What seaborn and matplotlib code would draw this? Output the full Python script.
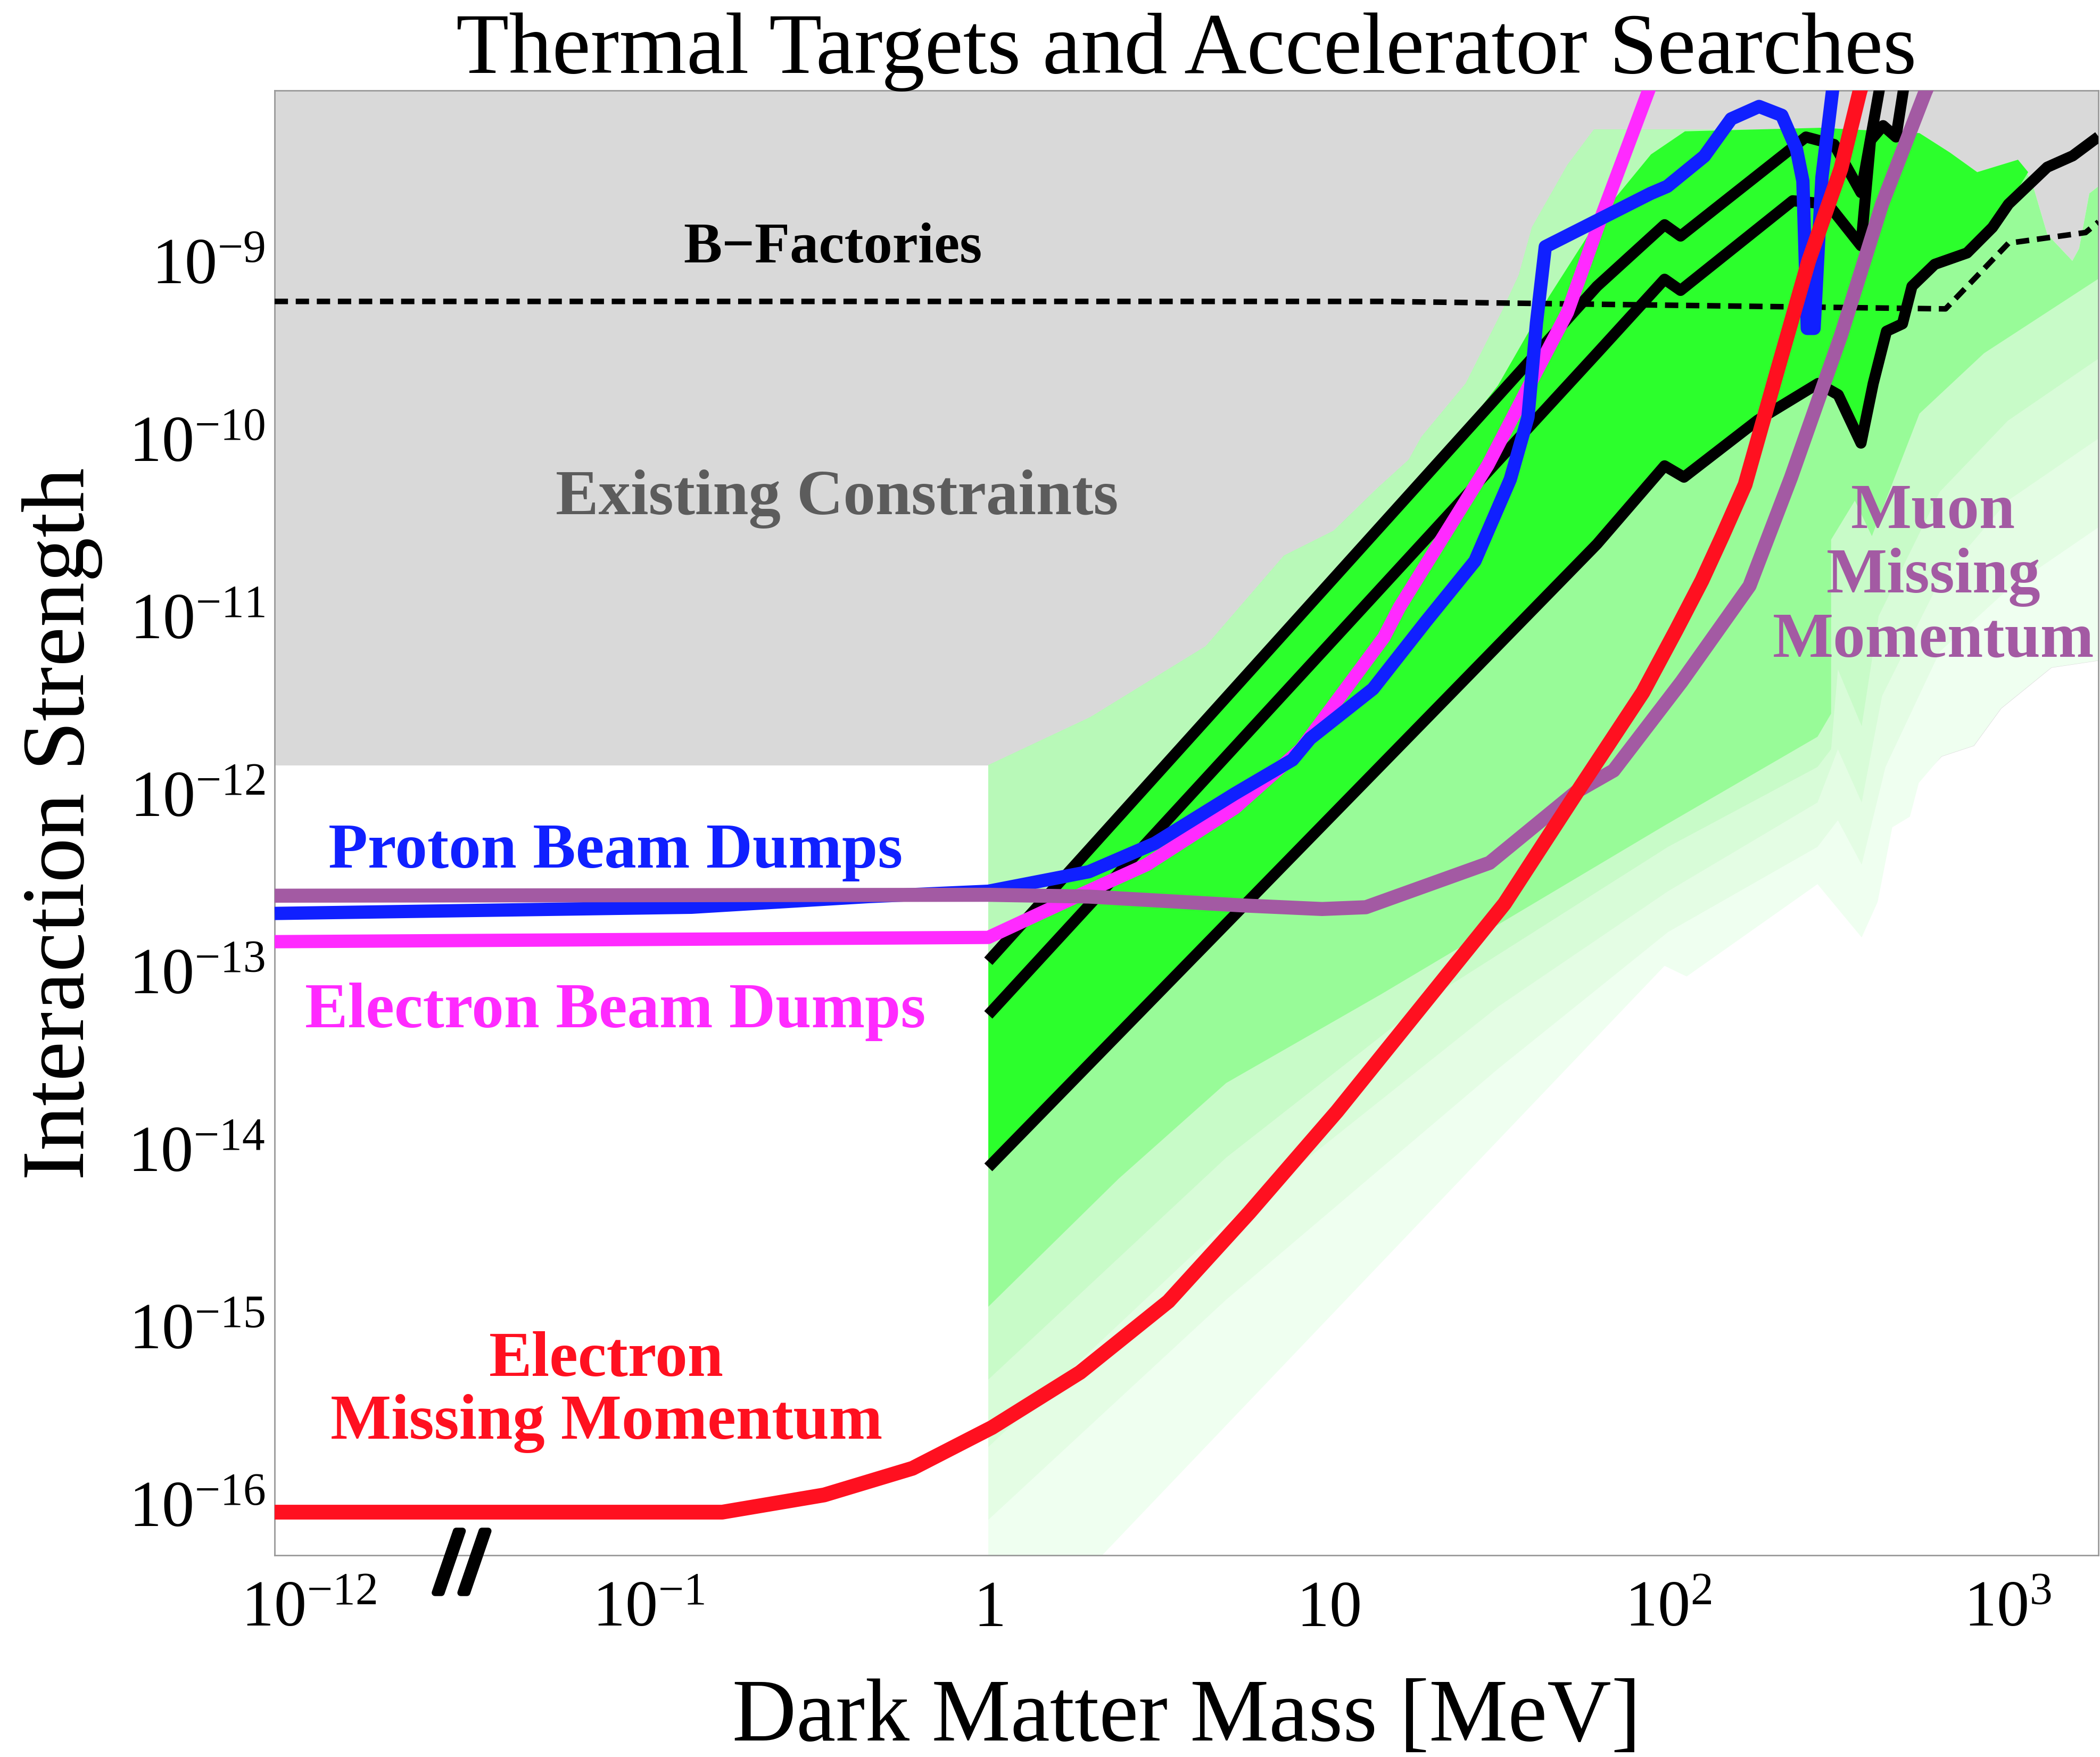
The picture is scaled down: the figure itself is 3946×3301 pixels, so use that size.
import numpy as np
import matplotlib
matplotlib.use("Agg")
import matplotlib.pyplot as plt
import matplotlib.patheffects as pe
from matplotlib.ticker import NullLocator
import seaborn as sns

# every value below is a log10.
# the mass axis is broken: the "10^-12" tick is drawn where 10^-2 would be.
XMIN, XMAX = -2.1, 3.267
YMIN, YMAX = -16.29, -8.04

x_ticks = [-2, -1, 0, 1, 2, 3]
x_labels = [r"$10^{-12}$", r"$10^{-1}$", r"$1$", r"$10$", r"$10^{2}$", r"$10^{3}$"]
y_ticks = [-16, -15, -14, -13, -12, -11, -10, -9]
y_labels = [r"$10^{%d}$" % t for t in y_ticks]

# existing constraints (grey), lower edge
existing_lx = [-2.1, 2.78, 2.805, 2.90, 2.98, 3.128, 3.267]
existing_ly = [-11.84, -11.84, -11.79, -11.73, -11.52, -11.29, -11.25]

# upper envelope of the green thermal regions
green_top_lx = [0.0, 0.30, 0.64, 0.87, 1.016, 1.145, 1.237, 1.275, 1.405, 1.51, 1.561, 1.60,
                1.704, 1.782, 2.375, 2.45, 2.74, 2.83, 2.91, 3.03]
green_top_ly = [-11.84, -11.57, -11.17, -10.66, -10.52, -10.28, -10.12, -9.99, -9.69, -9.29, -9.08, -8.81,
                -8.46, -8.26, -8.26, -8.25, -8.28, -8.39, -8.50, -8.43]
notch_lx = [3.07, 3.116, 3.19, 3.21, 3.24, 3.267]
notch_ly = [-8.55, -8.85, -9.00, -8.93, -8.62, -8.58]

# bright green band, upper edge (lower edge is the lowest thermal line)
bright_top_lx = [0.0, 1.3, 1.5, 1.65, 1.8, 1.95, 2.05, 2.45, 2.74, 2.83, 2.91, 3.03, 3.06]
bright_top_ly = [-12.94, -10.19, -9.70, -9.20, -8.75, -8.40, -8.27, -8.25, -8.28, -8.39, -8.50, -8.43, -8.50]

# lower edges of the paler green bands
medium_lx = [0.0, 0.383, 0.70, 1.156, 1.99, 2.44, 2.48, 2.48, 2.55, 2.60, 2.74, 2.93, 3.267]
medium_ly = [-14.89, -14.17, -13.63, -13.13, -12.18, -11.68, -11.55, -10.57, -10.35, -10.55, -9.86, -9.52, -9.10]
pale1_lx = [0.0, 0.7, 1.3, 2.0, 2.44, 2.48, 2.50, 2.57, 2.62, 2.8, 3.0, 3.267]
pale1_ly = [-15.30, -14.05, -13.15, -12.30, -11.85, -11.75, -11.30, -11.62, -11.00, -10.30, -9.90, -9.55]
pale2_lx = [0.0, 0.7, 1.5, 2.0, 2.44, 2.50, 2.57, 2.63, 2.8, 3.0, 3.267]
pale2_ly = [-15.68, -14.42, -13.20, -12.55, -12.05, -11.75, -12.05, -11.45, -10.80, -10.35, -10.00]
pale3_lx = [0.0, 0.7, 1.5, 2.0, 2.44, 2.50, 2.57, 2.64, 2.8, 3.0, 3.267]
pale3_ly = [-16.09, -14.85, -13.55, -12.78, -12.30, -12.15, -12.40, -11.85, -11.20, -10.85, -10.50]
pale4_lx = [0.0, 0.30, 1.99, 2.055, 2.44, 2.57, 2.617, 2.66, 2.712, 2.738, 2.805, 2.90, 2.98, 3.128, 3.267]
pale4_ly = [-16.36, -16.36, -12.97, -13.03, -12.51, -12.81, -12.61, -12.19, -12.13, -11.94, -11.79, -11.73,
            -11.52, -11.29, -11.25]

# thermal target lines
thermal1_lx = [0.0, 1.791, 1.990, 2.037, 2.406, 2.489, 2.568, 2.63]
thermal1_ly = [-12.944, -9.143, -8.796, -8.860, -8.302, -8.344, -8.615, -7.95]
thermal2_lx = [0.0, 1.791, 1.990, 2.037, 2.367, 2.471, 2.568, 2.596, 2.633, 2.671, 2.70]
thermal2_ly = [-13.246, -9.520, -9.103, -9.166, -8.661, -8.680, -8.914, -8.321, -8.238, -8.302, -7.95]
thermal3_lx = [0.0, 1.791, 1.990, 2.047, 2.264, 2.442, 2.501, 2.568, 2.604, 2.643, 2.690, 2.718, 2.785,
               2.880, 2.955, 3.002, 3.116, 3.191, 3.267]
thermal3_ly = [-14.105, -10.595, -10.154, -10.218, -9.897, -9.690, -9.754, -10.026, -9.690, -9.396, -9.354,
               -9.143, -9.019, -8.955, -8.811, -8.680, -8.472, -8.408, -8.30]

# B-factories (dotted)
bfac_lx = [-2.1, 1.16, 2.817, 3.002, 3.229, 3.267]
bfac_ly = [-9.228, -9.228, -9.27, -8.90, -8.84, -8.78]

# electron beam dumps
edump_lx = [-2.1, 0.0, 0.27, 0.466, 0.726, 0.92, 1.164, 1.21, 1.47, 1.60, 1.704, 1.808, 1.949, 1.98]
edump_ly = [-12.834, -12.81, -12.57, -12.40, -12.08, -11.75, -11.12, -10.95, -10.15, -9.67, -9.29, -8.73,
            -8.01, -7.90]

# proton beam dumps
pdump_lx = [-2.1, -0.873, -0.353, 0.0, 0.296, 0.49, 0.726, 0.895, 0.947, 1.132, 1.288, 1.432, 1.536, 1.588,
            1.613, 1.639, 1.949, 1.998, 2.107, 2.186, 2.268, 2.335, 2.378, 2.397, 2.41, 2.43, 2.453, 2.49]
pdump_ly = [-12.675, -12.64, -12.58, -12.55, -12.44, -12.28, -12.00, -11.81, -11.69, -11.41, -11.03, -10.69,
            -10.23, -9.88, -9.35, -8.92, -8.62, -8.58, -8.41, -8.20, -8.13, -8.18, -8.37, -8.55, -9.38,
            -9.38, -8.53, -7.95]

# electron missing momentum
emm_lx = [-2.1, -0.783, -0.483, -0.223, 0.011, 0.27, 0.53, 0.768, 1.026, 1.519, 1.733, 1.926, 2.024, 2.10,
          2.16, 2.227, 2.32, 2.414, 2.509, 2.564, 2.58]
emm_ly = [-16.047, -16.047, -15.95, -15.80, -15.57, -15.26, -14.86, -14.36, -13.79, -12.62, -11.99, -11.43,
          -11.08, -10.80, -10.55, -10.26, -9.63, -9.00, -8.48, -8.05, -7.95]

# muon missing momentum
mmm_lx = [-2.1, 0.0, 0.296, 0.75, 0.982, 1.111, 1.475, 1.73, 1.84, 2.04, 2.24, 2.362, 2.509, 2.63, 2.757, 2.78]
mmm_ly = [-12.575, -12.57, -12.58, -12.63, -12.65, -12.64, -12.39, -11.99, -11.87, -11.37, -10.83, -10.22,
          -9.42, -8.68, -8.05, -7.95]


def P(v):
    return 10.0 ** np.asarray(v, dtype=float)


sns.set_style("white")
plt.rcParams["font.family"] = ["Liberation Serif", "DejaVu Serif"]
plt.rcParams["mathtext.fontset"] = "custom"
plt.rcParams["mathtext.rm"] = "Liberation Serif"
plt.rcParams["mathtext.it"] = "Liberation Serif:italic"
plt.rcParams["mathtext.bf"] = "Liberation Serif:bold"
plt.rcParams["text.color"] = "black"

fig = plt.figure(figsize=(39.46, 33.01), dpi=100)
ax = fig.add_axes([0.1308, 0.1148, 0.8685, 0.8337])
ax.set_xscale("log")
ax.set_yscale("log")


def band(lo_x, lo_y, up_x, up_y, color, z):
    xs = np.concatenate([lo_x, np.asarray(up_x)[::-1]])
    ys = np.concatenate([lo_y, np.asarray(up_y)[::-1]])
    ax.fill(P(xs), P(ys), color=color, lw=0, zorder=z)


ax.fill_between(P(existing_lx), P(existing_ly), 10 ** -7.5, color="#d9d9d9", lw=0, zorder=1)

top_med_lx = green_top_lx + notch_lx
top_med_ly = green_top_ly + notch_ly
for lx, ly, c in [(pale4_lx, pale4_ly, "#effff0"), (pale3_lx, pale3_ly, "#e4fde4"),
                  (pale2_lx, pale2_ly, "#d8fcd8"), (pale1_lx, pale1_ly, "#c8fbc8"),
                  (medium_lx, medium_ly, "#98fb98")]:
    band(lx, ly, top_med_lx, top_med_ly, c, 2)

n3 = 16  # thermal3 points up to lx 3.002
band(thermal3_lx[:n3], thermal3_ly[:n3], green_top_lx, green_top_ly, "#b8f9b8", 3)
band(thermal3_lx[:n3], thermal3_ly[:n3], bright_top_lx, bright_top_ly, "#2cff2c", 4)

for lx, ly in [(thermal1_lx, thermal1_ly), (thermal2_lx, thermal2_ly), (thermal3_lx, thermal3_ly)]:
    sns.lineplot(x=P(lx), y=P(ly), sort=False, estimator=None, ax=ax, color="black",
                 linewidth=15, solid_capstyle="butt", solid_joinstyle="round", zorder=6, legend=False)

sns.lineplot(x=P(bfac_lx), y=P(bfac_ly), sort=False, estimator=None, ax=ax, color="black",
             linewidth=7.5, linestyle=(0, (2.4, 1.4)), dash_capstyle="butt", zorder=7, legend=False)

curves = [
    (edump_lx, edump_ly, "#ff2aff", 18, 8),
    (pdump_lx, pdump_ly, "#1020ff", 18, 9),
    (mmm_lx, mmm_ly, "#a35aa3", 19, 10),
    (emm_lx, emm_ly, "#ff1020", 20, 11),
]
for lx, ly, c, w, z in curves:
    sns.lineplot(x=P(lx), y=P(ly), sort=False, estimator=None, ax=ax, color=c, linewidth=w,
                 solid_capstyle="butt", solid_joinstyle="round", zorder=z, legend=False)

ax.set_xlim(P(XMIN), P(XMAX))
ax.set_ylim(P(YMIN), P(YMAX))
ax.xaxis.set_minor_locator(NullLocator())
ax.yaxis.set_minor_locator(NullLocator())
ax.set_xticks(P(x_ticks), x_labels, va="baseline")
ax.set_yticks(P(y_ticks), y_labels)
ax.tick_params(axis="x", direction="in", length=16, width=1.5, color="#999999", pad=96, labelsize=88,
               labelcolor="black")
ax.tick_params(axis="y", direction="in", length=19, width=1.5, color="#999999", pad=13, labelsize=88,
               labelcolor="black")
for s in ax.spines.values():
    s.set_color("#999999")
    s.set_linewidth(2)
ax.set_xlabel("")
ax.set_ylabel("")

bold = dict(ha="center", va="center", fontweight="bold", zorder=12)
ax.text(P(-0.458), P(-8.93), "B\u2212Factories", fontsize=78, color="black", **bold)
ax.text(P(-0.446), P(-10.34), "Existing Constraints", fontsize=87, color="#5c5c5c", **bold)
ax.text(P(-1.097), P(-12.33), "Proton Beam Dumps", fontsize=87, color="#1020ff", **bold)
ax.text(P(-1.097), P(-13.23), "Electron Beam Dumps", fontsize=87, color="#ff2aff", **bold)
ax.text(P(-1.124), P(-15.37), "Electron\nMissing Momentum", fontsize=87, color="#ff1020",
        linespacing=1.11, multialignment="center", **bold)
ax.text(P(2.781), P(-10.78), "Muon\nMissing\nMomentum", fontsize=87, color="#a35aa3",
        linespacing=1.12, multialignment="center", **bold)
ax.text(P(-1.55), P(-16.37), "//", fontsize=125, fontweight="bold", ha="center", va="center",
        clip_on=False, zorder=12, path_effects=[pe.withStroke(linewidth=9, foreground="black")])

fig.text(0.565, 0.9585, "Thermal Targets and Accelerator Searches", fontsize=117, ha="center",
         va="baseline", color="black")
fig.text(0.565, 0.0094, "Dark Matter Mass [MeV]", fontsize=120, ha="center", va="baseline", color="black")
fig.text(0.0398, 0.531, "Interaction Strength", fontsize=121, rotation=90, rotation_mode="anchor",
         ha="center", va="baseline", color="black")

fig.savefig("out.png", dpi=100)
